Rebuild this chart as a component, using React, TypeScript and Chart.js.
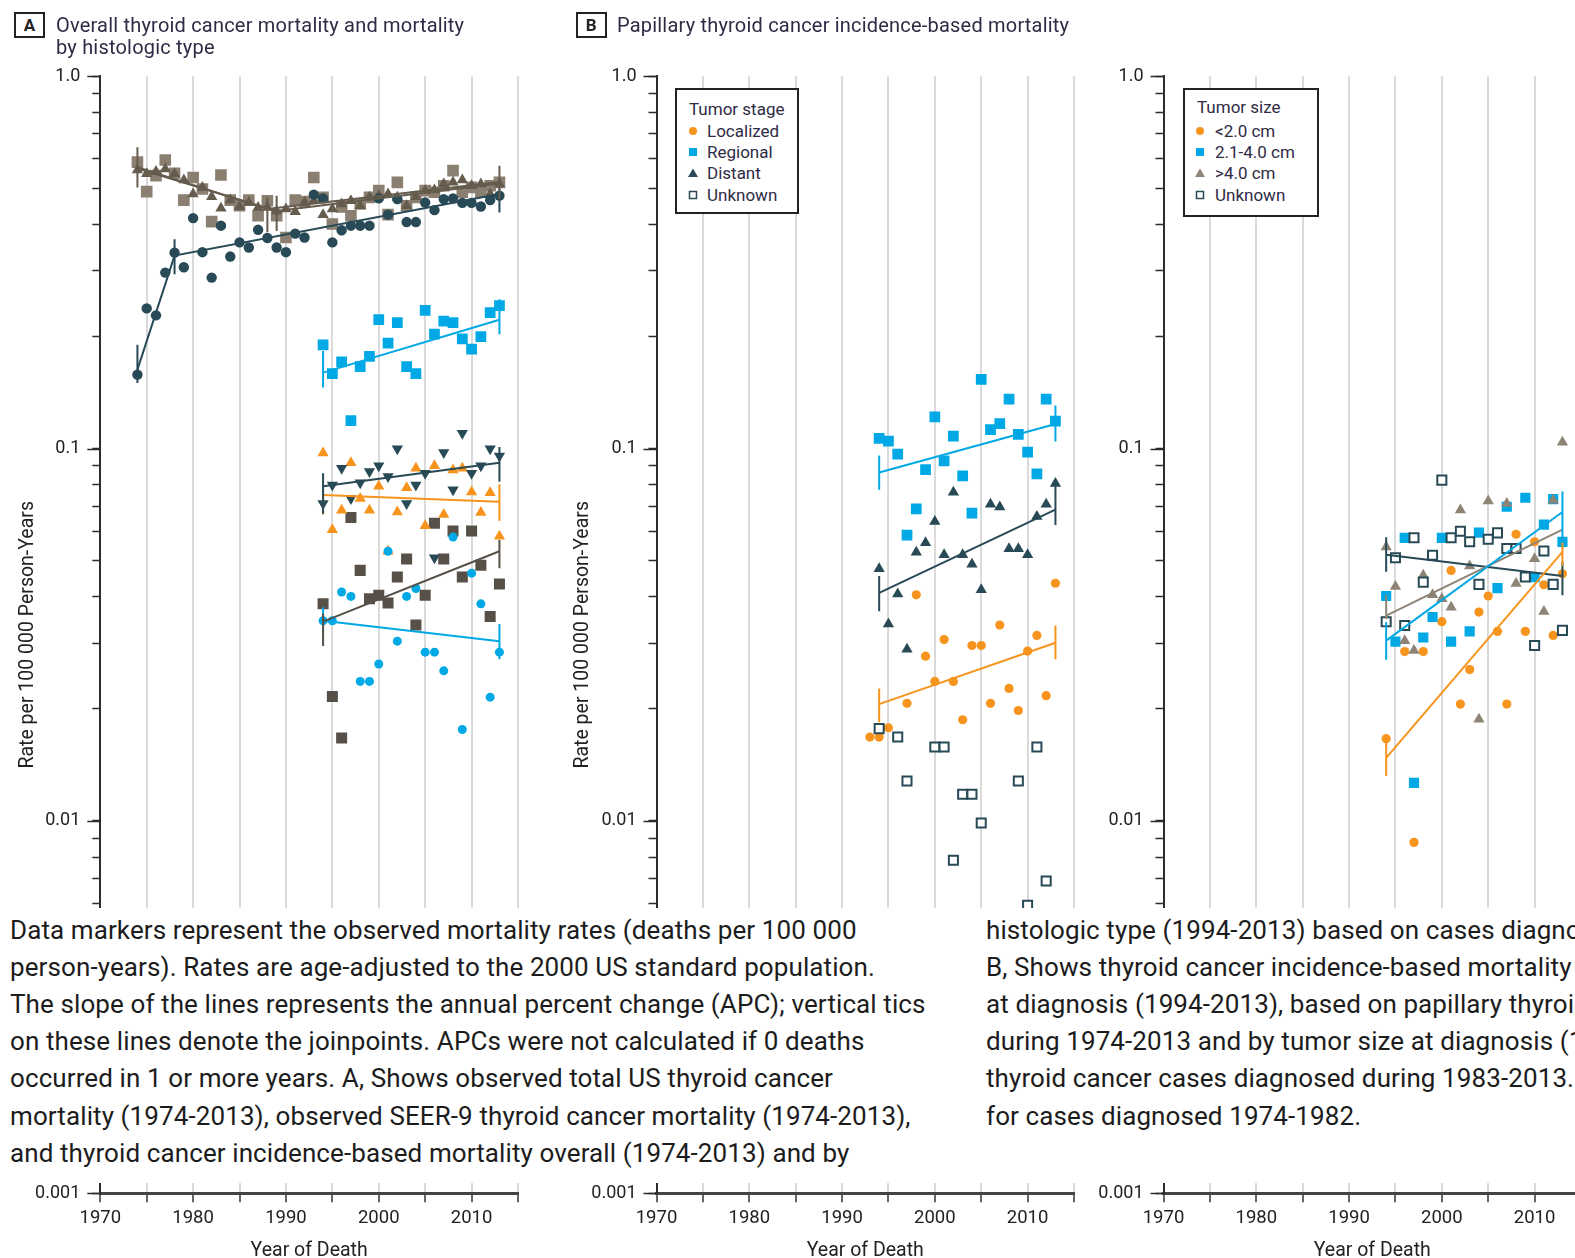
import React, { useEffect, useRef } from 'react';
import { Chart, registerables } from 'chart.js';
Chart.register(...registerables);

// ---------------- DATA ----------------
const yearsA = [1974, 1975, 1976, 1977, 1978, 1979, 1980, 1981, 1982, 1983, 1984, 1985, 1986, 1987, 1988, 1989, 1990, 1991, 1992, 1993, 1994, 1995, 1996, 1997, 1998, 1999, 2000, 2001, 2002, 2003, 2004, 2005, 2006, 2007, 2008, 2009, 2010, 2011, 2012, 2013];
const years94 = [1994, 1995, 1996, 1997, 1998, 1999, 2000, 2001, 2002, 2003, 2004, 2005, 2006, 2007, 2008, 2009, 2010, 2011, 2012, 2013];
const years93 = [1993, 1994, 1995, 1996, 1997, 1998, 1999, 2000, 2001, 2002, 2003, 2004, 2005, 2006, 2007, 2008, 2009, 2010, 2011, 2012, 2013];

// Panel A
const usTotal = [0.588, 0.49, 0.541, 0.596, 0.549, 0.465, 0.535, 0.498, 0.407, 0.543, 0.465, 0.449, 0.465, 0.422, 0.463, 0.422, 0.369, 0.465, 0.461, 0.535, 0.473, 0.401, 0.446, 0.422, 0.454, 0.473, 0.493, 0.425, 0.519, 0.449, 0.473, 0.493, 0.488, 0.508, 0.558, 0.488, 0.503, 0.488, 0.508, 0.519];
const seer9 = [0.56, 0.547, 0.555, 0.564, 0.547, 0.527, 0.483, 0.503, 0.475, 0.442, 0.465, 0.446, 0.458, 0.444, 0.444, 0.435, 0.44, 0.433, 0.458, 0.463, 0.425, 0.44, 0.454, 0.463, 0.449, 0.473, 0.478, 0.483, 0.473, 0.449, 0.475, 0.493, 0.495, 0.514, 0.519, 0.527, 0.508, 0.514, 0.483, 0.514];
const ibmOverall = [0.158, 0.238, 0.228, 0.297, 0.336, 0.307, 0.416, 0.337, 0.288, 0.397, 0.328, 0.358, 0.347, 0.387, 0.368, 0.347, 0.337, 0.378, 0.369, 0.481, 0.47, 0.358, 0.386, 0.397, 0.397, 0.397, 0.47, 0.425, 0.468, 0.406, 0.406, 0.458, 0.437, 0.468, 0.47, 0.457, 0.457, 0.447, 0.465, 0.478];
const papillaryA = [0.19, 0.159, 0.171, 0.119, 0.166, 0.177, 0.222, 0.192, 0.218, 0.166, 0.159, 0.235, 0.203, 0.22, 0.218, 0.197, 0.185, 0.2, 0.232, 0.242];
const follicularA = [0.0712, 0.0798, 0.0886, 0.0735, 0.081, 0.0868, 0.09, 0.0842, 0.1, 0.0712, 0.0798, 0.0859, 0.0509, 0.0977, 0.0775, 0.11, 0.0859, 0.09, 0.1, 0.0955];
const medullaryA = [0.0973, 0.0606, 0.0683, 0.0916, 0.0735, 0.0683, 0.0793, 0.053, 0.0676, 0.0785, 0.0886, 0.0621, 0.09, 0.0665, 0.0876, 0.0886, 0.0765, 0.0674, 0.0761, 0.0582];
const anaplasticA = [0.0383, 0.0216, 0.0167, 0.0653, 0.0471, 0.0395, 0.0404, 0.0385, 0.0452, 0.0505, 0.0336, 0.0404, 0.063, 0.0505, 0.0601, 0.0452, 0.0601, 0.0486, 0.0354, 0.0433];
const otherA = [0.0345, 0.0345, 0.0412, 0.0401, 0.0237, 0.0237, 0.0264, 0.053, 0.0304, 0.0401, 0.0421, 0.0284, 0.0284, 0.0253, 0.0579, 0.0176, 0.0463, 0.0383, 0.0215, 0.0284];

// APC fit lines (year, rate) and joinpoint tics (year, low, high)
const fitUsYears = [1974, 1988, 2013];
const fitUsRates = [0.57, 0.44, 0.52];
const fitSeerYears = [1974, 1989, 2013];
const fitSeerRates = [0.565, 0.435, 0.515];
const fitIbmYears = [1974, 1978, 2013];
const fitIbmRates = [0.163, 0.33, 0.483];
const fitPapYears = [1994, 2013];
const fitPapRates = [0.16, 0.222];
const fitFolRates = [0.0792, 0.0916];
const fitMedRates = [0.0751, 0.072];
const fitAnaRates = [0.0343, 0.053];
const fitOthRates = [0.0345, 0.0304];
const ticsTaupeA = [[1974, 0.503, 0.645], [1988, 0.381, 0.473], [1989, 0.384, 0.478], [2013, 0.468, 0.575]];
const ticsIbmA = [[1974, 0.15, 0.19], [1978, 0.294, 0.365], [2013, 0.431, 0.5]];
const ticsPapA = [[1994, 0.146, 0.183], [2013, 0.203, 0.252]];
const ticsFolA = [[1994, 0.0668, 0.0859], [2013, 0.0815, 0.101]];
const ticsMedA = [[1994, 0.0665, 0.0775], [2013, 0.064, 0.0802]];
const ticsAnaA = [[1994, 0.0295, 0.036], [2013, 0.0477, 0.0568]];
const ticsOthA = [[1994, 0.032, 0.0375], [2013, 0.0272, 0.0338]];

// Panel B (tumor stage)
const localizedB = [0.0168, 0.0168, 0.0178, null, 0.0207, 0.0405, 0.0277, 0.0237, 0.0307, 0.0237, 0.0187, 0.0296, 0.0296, 0.0207, 0.0336, 0.0227, 0.0198, 0.0286, 0.0315, 0.0217, 0.0435];
const regionalB = [0.1066, 0.1047, 0.0967, 0.0586, 0.0689, 0.0878, 0.1217, 0.0927, 0.1081, 0.0845, 0.0671, 0.1535, 0.1124, 0.1168, 0.1358, 0.1093, 0.0979, 0.0856, 0.1358, 0.1186];
const distantB = [0.0476, 0.0338, 0.0407, 0.0289, 0.0527, 0.0559, 0.0637, 0.0519, 0.0764, 0.0519, 0.0489, 0.0418, 0.0709, 0.0697, 0.0538, 0.0538, 0.0519, 0.0657, 0.0709, 0.0806];
const unknownB = [0.0177, null, 0.0168, 0.0128, null, null, 0.0158, 0.0158, 0.00784, 0.0118, 0.0118, 0.00988, null, null, null, 0.0128, 0.00594, 0.0158, 0.0069, null];
const fitRegB = [0.0863, 0.1165];
const fitDisB = [0.041, 0.0686];
const fitLocB = [0.0206, 0.0301];
const ticsRegB = [[1994, 0.0776, 0.0958], [2013, 0.1045, 0.1306]];
const ticsDisB = [[1994, 0.0366, 0.0455], [2013, 0.0624, 0.0825]];
const ticsLocB = [[1994, 0.0184, 0.0227], [2013, 0.0272, 0.0335]];

// Panel C (tumor size)
const smallC = [0.01663, null, 0.0285, 0.00876, 0.0285, null, 0.0343, 0.0471, 0.0206, 0.0255, 0.0364, 0.0402, 0.0323, 0.0206, 0.0589, 0.0323, 0.0562, 0.0431, 0.0315, 0.0461];
const midC = [0.0402, 0.0303, 0.0576, 0.01266, 0.0311, 0.0353, 0.0576, 0.0303, null, 0.0323, 0.0595, null, 0.0422, 0.0698, null, 0.0738, 0.0452, 0.0625, 0.0732, 0.0562];
const largeC = [0.0544, 0.0426, 0.0305, 0.0287, 0.0457, 0.0405, 0.0395, 0.0375, 0.0684, 0.0484, 0.01875, 0.0723, null, 0.0712, 0.0434, null, 0.0506, 0.0365, 0.0727, 0.104];
const unknownC = [0.0343, 0.0509, 0.0335, 0.0576, 0.0438, 0.0517, 0.0823, 0.0576, 0.06, 0.0562, 0.0432, 0.0571, 0.0594, 0.0539, 0.0539, 0.0452, 0.0296, 0.0531, 0.0432, 0.0325];
const fitSmallC = [0.01478, 0.0528];
const fitMidC = [0.0305, 0.0676];
const fitLargeC = [0.0356, 0.0606];
const fitUnkC = [0.0519, 0.0455];
const ticsSmallC = [[1994, 0.0132, 0.0166], [2013, 0.0485, 0.056]];
const ticsMidC = [[1994, 0.0271, 0.0342], [2013, 0.054, 0.0767]];
const ticsLargeC = [[1994, 0.0349, 0.0404]];
const ticsUnkC = [[1994, 0.0467, 0.0578], [2013, 0.0404, 0.0497]];

// axis ticks
const xTickYears = [1970, 1975, 1980, 1985, 1990, 1995, 2000, 2005, 2010, 2015];
const xLabelYears = [1970, 1980, 1990, 2000, 2010];
const yTickVals = [0.001, 0.002, 0.003, 0.004, 0.005, 0.006, 0.007, 0.008, 0.009, 0.01, 0.02, 0.03, 0.04, 0.05, 0.06, 0.07, 0.08, 0.09, 0.1, 0.2, 0.3, 0.4, 0.5, 0.6, 0.7, 0.8, 0.9, 1];
const yDecades = [1, 0.1, 0.01, 0.001];
const yDecadeLabels = ['1.0', '0.1', '0.01', '0.001'];

// ---------------- STYLE ----------------
const FONT = 'Roboto, "Liberation Sans", sans-serif';
const TAUPE = '#8a7f70';
const TAUPE_DK = '#655c4e';
const TEAL = '#284956';
const BLUE = '#00a9e6';
const ORANGE = '#f7941d';
const DKGRAY = '#575048';
const GRAY_C = '#8d8475';
const TOP = 76.3;
const BOTTOM = 1193.3;
const H = 1258;

const pts = (xs: number[], ys: (number | null)[]) =>
  xs.map((x, i) => ({ x, y: ys[i] })).filter((p) => p.y !== null && p.y !== undefined);

function markers(data: any[], style: string, radius: number, color: string, order: number, extra: any = {}) {
  return {
    type: 'scatter', data, pointStyle: style, pointRadius: radius, pointHoverRadius: radius,
    backgroundColor: color, borderColor: color, borderWidth: 0, order, ...extra,
  };
}
function line(data: any[], color: string, order = 0, width = 2) {
  return {
    type: 'scatter', data, showLine: true, borderColor: color, backgroundColor: color,
    borderWidth: width, pointRadius: 0, pointHoverRadius: 0, fill: false, tension: 0, order,
  };
}
function tics(list: number[][], color: string) {
  return list.map((t) => line([{ x: t[0], y: t[1] }, { x: t[0], y: t[2] }], color, 0, 2));
}

const datasetsA: any[] = [
  line(pts(fitUsYears, fitUsRates), TAUPE_DK),
  line(pts(fitSeerYears, fitSeerRates), TAUPE_DK),
  ...tics(ticsTaupeA, TAUPE_DK),
  line(pts(fitIbmYears, fitIbmRates), TEAL),
  ...tics(ticsIbmA, TEAL),
  line(pts(fitPapYears, fitPapRates), BLUE),
  ...tics(ticsPapA, BLUE),
  line(pts(fitPapYears, fitFolRates), TEAL),
  ...tics(ticsFolA, TEAL),
  line(pts(fitPapYears, fitMedRates), ORANGE),
  ...tics(ticsMedA, ORANGE),
  line(pts(fitPapYears, fitAnaRates), DKGRAY),
  ...tics(ticsAnaA, DKGRAY),
  line(pts(fitPapYears, fitOthRates), BLUE),
  ...tics(ticsOthA, BLUE),
  markers(pts(yearsA, ibmOverall), 'circle', 5.2, TEAL, 2),
  markers(pts(yearsA, seer9), 'triangle', 6.5, TAUPE_DK, 3),
  markers(pts(yearsA, usTotal), 'rect', 8.2, TAUPE, 4),
  markers(pts(years94, papillaryA), 'rect', 7.6, BLUE, 5),
  markers(pts(years94, follicularA), 'triangle', 6.5, TEAL, 6, { rotation: 180 }),
  markers(pts(years94, otherA), 'circle', 4.5, BLUE, 7),
  markers(pts(years94, medullaryA), 'triangle', 6.5, ORANGE, 8),
  markers(pts(years94, anaplasticA), 'rect', 7.8, DKGRAY, 9),
];

const datasetsB: any[] = [
  line(pts(fitPapYears, fitRegB), BLUE),
  ...tics(ticsRegB, BLUE),
  line(pts(fitPapYears, fitDisB), TEAL),
  ...tics(ticsDisB, TEAL),
  line(pts(fitPapYears, fitLocB), ORANGE),
  ...tics(ticsLocB, ORANGE),
  markers(pts(years94, unknownB), 'rect', 6.4, '#ffffff', 2, { borderColor: TEAL, borderWidth: 2 }),
  markers(pts(years94, regionalB), 'rect', 7.6, BLUE, 3),
  markers(pts(years94, distantB), 'triangle', 6.5, TEAL, 4),
  markers(pts(years93, localizedB), 'circle', 4.6, ORANGE, 5),
];

const datasetsC: any[] = [
  line(pts(fitPapYears, fitSmallC), ORANGE),
  ...tics(ticsSmallC, ORANGE),
  line(pts(fitPapYears, fitMidC), BLUE),
  ...tics(ticsMidC, BLUE),
  line(pts(fitPapYears, fitLargeC), GRAY_C),
  ...tics(ticsLargeC, GRAY_C),
  line(pts(fitPapYears, fitUnkC), TEAL),
  ...tics(ticsUnkC, TEAL),
  markers(pts(years94, unknownC), 'rect', 6.4, '#ffffff', 2, { borderColor: TEAL, borderWidth: 2 }),
  markers(pts(years94, largeC), 'triangle', 6.5, GRAY_C, 3),
  markers(pts(years94, midC), 'rect', 7.2, BLUE, 4),
  markers(pts(years94, smallC), 'circle', 4.6, ORANGE, 5),
];

const majorTickPlugin = {
  id: 'majorTicks',
  afterDraw(chart: any) {
    const y = chart.scales.y;
    const ctx = chart.ctx;
    ctx.save();
    ctx.strokeStyle = '#2b2b2b';
    ctx.lineWidth = 1.5;
    for (const v of yDecades) {
      const py = Math.round(y.getPixelForValue(v)) + 0.5;
      ctx.beginPath();
      ctx.moveTo(y.right - 13, py);
      ctx.lineTo(y.right, py);
      ctx.stroke();
    }
    ctx.restore();
  },
};

type PanelProps = { left: number; width: number; leftW: number; rightPad: number; datasets: any[]; yTitle?: string; yTitlePad?: number };

function Panel({ left, width, leftW, rightPad, datasets, yTitle, yTitlePad }: PanelProps) {
  const ref = useRef<HTMLCanvasElement>(null);
  useEffect(() => {
    const chart = new Chart(ref.current as HTMLCanvasElement, {
      type: 'scatter',
      data: { datasets },
      options: {
        responsive: false,
        animation: false,
        devicePixelRatio: 1,
        events: [],
        layout: { autoPadding: false, padding: { top: TOP, right: rightPad, bottom: 0, left: 0 } },
        plugins: { legend: { display: false }, tooltip: { enabled: false }, title: { display: false } },
        scales: {
          x: {
            type: 'linear', min: 1970, max: 2015,
            afterBuildTicks: (s: any) => { s.ticks = xTickYears.map((v) => ({ value: v })); },
            afterFit: (s: any) => { s.height = H - BOTTOM; },
            ticks: {
              autoSkip: false, maxRotation: 0, padding: 5, color: '#222',
              font: { family: FONT, size: 18.5 },
              callback: (v: any) => (xLabelYears.includes(Number(v)) ? String(v) : ''),
            },
            grid: {
              color: (c: any) => (c.tick && c.tick.value === 1970 ? 'rgba(0,0,0,0)' : '#dadada'),
              lineWidth: 2, drawTicks: true, tickLength: 9, tickColor: '#333', tickWidth: 1.5,
            },
            border: { display: true, color: '#444', width: 3 },
            title: { display: true, text: 'Year of Death', color: '#222', font: { family: FONT, size: 19.5 }, padding: { top: 0, bottom: -5 } },
          },
          y: {
            type: 'logarithmic', min: 0.001, max: 1,
            afterBuildTicks: (s: any) => { s.ticks = yTickVals.map((v) => ({ value: v })); },
            afterFit: (s: any) => { s.width = leftW; },
            ticks: {
              autoSkip: false, padding: 12, color: '#222',
              font: { family: FONT, size: 18 },
              callback: (v: any) => {
                const n = Number(v);
                const i = yDecades.findIndex((d) => Math.abs(n - d) / d < 1e-6);
                return i >= 0 ? yDecadeLabels[i] : '';
              },
            },
            grid: { drawOnChartArea: false, drawTicks: true, tickLength: 8, tickColor: '#2b2b2b', tickWidth: 1.5 },
            border: { display: true, color: '#2b2b2b', width: 2 },
            title: {
              display: !!yTitle, text: yTitle || '', color: '#222',
              font: { family: FONT, size: 19.5 }, padding: { top: yTitlePad || 0, bottom: 0 },
            },
          },
        },
      } as any,
      plugins: [majorTickPlugin],
    });
    return () => chart.destroy();
  }, []);
  return <canvas ref={ref} width={width} height={H} style={{ position: 'absolute', left, top: 0, width, height: H }} />;
}

function Marker({ shape, color }: { shape: string; color: string }) {
  return (
    <svg width="12" height="12" viewBox="0 0 12 12" style={{ display: 'block' }}>
      {shape === 'circle' && <circle cx="6" cy="6" r="4" fill={color} />}
      {shape === 'square' && <rect x="2" y="2" width="8" height="8" fill={color} />}
      {shape === 'triangle' && <polygon points="6,1.5 11,10 1,10" fill={color} />}
      {shape === 'open' && <rect x="2.5" y="2.5" width="7" height="7" fill="#fff" stroke={color} strokeWidth="1.5" />}
    </svg>
  );
}

const legendStageLabels = ['Localized', 'Regional', 'Distant', 'Unknown'];
const legendSizeLabels = ['<2.0 cm', '2.1-4.0 cm', '>4.0 cm', 'Unknown'];

function Legend({ left, top, width, height, title, labels, shapes, colors, textX, markX }: any) {
  const rows = [130.6, 151.7, 172.8, 194.9];
  return (
    <>
      <div style={{ position: 'absolute', left, top, width, height, border: '2px solid #222', boxSizing: 'border-box', background: '#fff' }} />
      <div style={{ position: 'absolute', left: textX - 18, top: 108.5 - 11 + (title === 'Tumor size' ? -2 : 0), font: `17px ${FONT}`, lineHeight: '22px', color: '#2f2b45', whiteSpace: 'nowrap' }}>{title}</div>
      {labels.map((l: string, i: number) => (
        <React.Fragment key={l}>
          <div style={{ position: 'absolute', left: markX - 6, top: rows[i] - 6 }}><Marker shape={shapes[i]} color={colors[i]} /></div>
          <div style={{ position: 'absolute', left: textX, top: rows[i] - 11, font: `17px ${FONT}`, lineHeight: '22px', color: '#2f2b45', whiteSpace: 'nowrap' }}>{l}</div>
        </React.Fragment>
      ))}
    </>
  );
}

const captionLeft = [
  'Data markers represent the observed mortality rates (deaths per 100 000',
  'person-years). Rates are age-adjusted to the 2000 US standard population.',
  'The slope of the lines represents the annual percent change (APC); vertical tics',
  'on these lines denote the joinpoints. APCs were not calculated if 0 deaths',
  'occurred in 1 or more years. A, Shows observed total US thyroid cancer',
  'mortality (1974-2013), observed SEER-9 thyroid cancer mortality (1974-2013),',
  'and thyroid cancer incidence-based mortality overall (1974-2013) and by',
];
const captionRight = [
  'histologic type (1994-2013) based on cases diagnosed',
  'B, Shows thyroid cancer incidence-based mortality',
  'at diagnosis (1994-2013), based on papillary thyroid',
  'during 1974-2013 and by tumor size at diagnosis (1994-2013)',
  'thyroid cancer cases diagnosed during 1983-2013. Tumor',
  'for cases diagnosed 1974-1982.',
];

export default function App() {
  const titleStyle: React.CSSProperties = { position: 'absolute', font: `20px ${FONT}`, letterSpacing: '0.2px', lineHeight: '22px', color: '#2f2b45', whiteSpace: 'nowrap' };
  const boxStyle: React.CSSProperties = { position: 'absolute', border: '2px solid #222', boxSizing: 'border-box', font: `bold 17px ${FONT}`, lineHeight: '22px', textAlign: 'center', color: '#222', background: '#fff' };
  const capStyle: React.CSSProperties = { position: 'absolute', font: `26px ${FONT}`, letterSpacing: '0.1px', lineHeight: '37.2px', color: '#1c1c1c', whiteSpace: 'nowrap' };
  return (
    <div style={{ position: 'fixed', left: 0, top: 0, width: 1575, height: 1258, overflow: 'hidden', background: '#fff' }}>
      <Panel left={0} width={560} leftW={100.3} rightPad={42} datasets={datasetsA} yTitle="Rate per 100 000 Person-Years" yTitlePad={16.2} />
      <Panel left={560} width={540} leftW={96.5} rightPad={26} datasets={datasetsB} yTitle="Rate per 100 000 Person-Years" yTitlePad={11.8} />
      <Panel left={1080} width={520} leftW={83.5} rightPad={19} datasets={datasetsC} />

      <div style={{ ...boxStyle, left: 14, top: 12, width: 31, height: 26 }}>A</div>
      <div style={{ ...titleStyle, left: 56, top: 14 }}>Overall thyroid cancer mortality and mortality</div>
      <div style={{ ...titleStyle, left: 56, top: 36 }}>by histologic type</div>
      <div style={{ ...boxStyle, left: 575.6, top: 12, width: 31, height: 26 }}>B</div>
      <div style={{ ...titleStyle, left: 617, top: 14 }}>Papillary thyroid cancer incidence-based mortality</div>

      <Legend left={675} top={88.4} width={123.6} height={125.6} title="Tumor stage" labels={legendStageLabels}
        shapes={['circle', 'square', 'triangle', 'open']} colors={[ORANGE, BLUE, TEAL, TEAL]} textX={707} markX={693} />
      <Legend left={1183.3} top={88.4} width={135.7} height={128.6} title="Tumor size" labels={legendSizeLabels}
        shapes={['circle', 'square', 'triangle', 'open']} colors={[ORANGE, BLUE, GRAY_C, TEAL]} textX={1215} markX={1200} />

      <div style={{ position: 'absolute', left: 0, top: 908, width: 1575, height: 275, background: '#fff' }}>
        {captionLeft.map((t, i) => (
          <div key={'l' + i} style={{ ...capStyle, left: 10, top: 3.6 + i * 37.2 }}>{t}</div>
        ))}
        {captionRight.map((t, i) => (
          <div key={'r' + i} style={{ ...capStyle, left: 986, top: 3.6 + i * 37.2 }}>{t}</div>
        ))}
      </div>
    </div>
  );
}
